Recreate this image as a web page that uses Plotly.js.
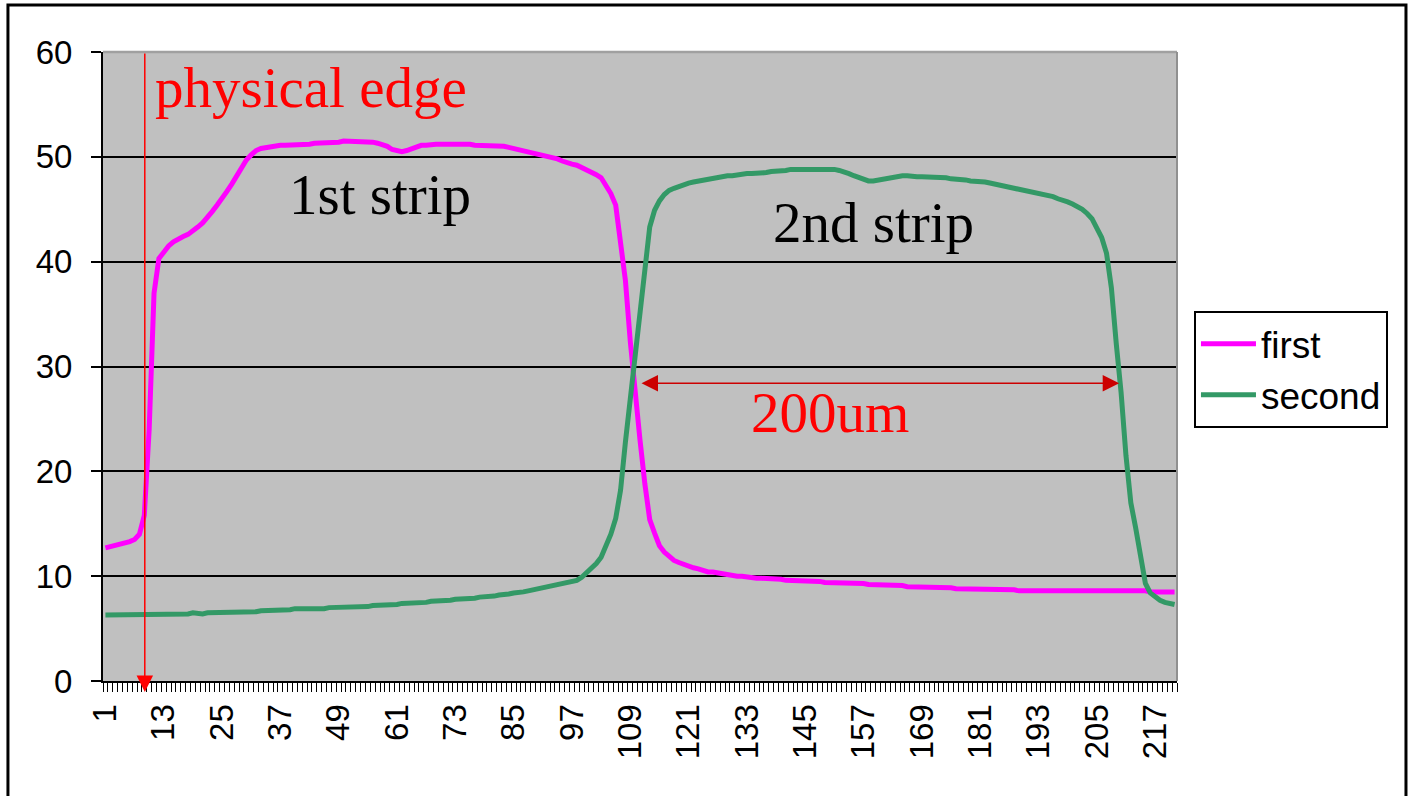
<!DOCTYPE html>
<html>
<head>
<meta charset="utf-8">
<script src="https://cdn.plot.ly/plotly-3.0.1.min.js"></script>
<style>html,body{margin:0;padding:0;background:#fff;}#chart{width:1410px;height:796px;}</style>
</head>
<body>
<div id="chart"></div>
<script>
// category index (1..221) along the x axis
var categories = [];
for (var i = 1; i <= 221; i++) categories.push(i);

var tickValues = [1,13,25,37,49,61,73,85,97,109,121,133,145,157,169,181,193,205,217];
var tickLabels = ['1','13','25','37','49','61','73','85','97','109','121','133','145','157','169','181','193','205','217'];

var seriesNames = ['first','second'];

var firstValues = [
12.7,12.8,12.9,13.0,13.1,13.3,13.5,14.0,15.8,24.0,
37.0,40.3,40.9,41.5,41.9,42.2,42.4,42.6,42.9,43.3,
43.7,44.2,44.8,45.4,46.0,46.7,47.4,48.2,49.0,49.7,
50.2,50.6,50.8,50.9,51.0,51.0,51.1,51.1,51.1,51.1,
51.2,51.2,51.2,51.3,51.3,51.3,51.4,51.4,51.4,51.5,
51.5,51.5,51.5,51.5,51.4,51.4,51.3,51.2,51.0,50.7,
50.6,50.5,50.6,50.8,51.0,51.1,51.1,51.2,51.2,51.2,
51.2,51.3,51.2,51.2,51.2,51.2,51.1,51.1,51.1,51.1,
51.0,51.0,51.0,50.9,50.8,50.7,50.6,50.5,50.4,50.3,
50.2,50.0,49.9,49.8,49.6,49.4,49.3,49.2,49.0,48.7,
48.5,48.3,48.0,47.3,46.5,45.4,42.0,38.2,32.4,27.3,
23.0,18.8,15.4,14.1,12.9,12.3,11.9,11.5,11.3,11.1,
10.9,10.8,10.7,10.5,10.4,10.4,10.3,10.2,10.2,10.1,
10.0,10.0,9.9,9.9,9.8,9.8,9.8,9.7,9.7,9.7,
9.6,9.6,9.6,9.6,9.5,9.5,9.5,9.5,9.4,9.4,
9.4,9.4,9.4,9.4,9.3,9.3,9.3,9.2,9.2,9.2,
9.2,9.1,9.1,9.1,9.1,9.0,9.0,9.0,9.0,8.9,
9.0,8.9,8.9,8.9,8.9,8.8,8.8,8.8,8.8,8.8,
8.8,8.7,8.8,8.7,8.7,8.7,8.7,8.7,8.6,8.6,
8.7,8.6,8.6,8.6,8.6,8.7,8.6,8.6,8.6,8.7,
8.6,8.6,8.7,8.6,8.6,8.6,8.7,8.6,8.7,8.6,
8.6,8.7,8.6,8.6,8.6,8.5,8.5,8.5,8.5,8.5,8.5
];

var secondValues = [
6.3,6.3,6.3,6.3,6.4,6.3,6.3,6.3,6.4,6.3,
6.3,6.3,6.4,6.4,6.3,6.4,6.4,6.4,6.5,6.4,
6.4,6.5,6.5,6.5,6.5,6.6,6.6,6.6,6.6,6.6,
6.6,6.6,6.7,6.7,6.7,6.7,6.7,6.8,6.8,6.9,
6.9,6.9,6.9,6.8,6.9,6.9,7.0,7.0,7.0,7.0,
7.0,7.1,7.1,7.1,7.1,7.2,7.2,7.2,7.3,7.3,
7.3,7.4,7.4,7.4,7.5,7.5,7.5,7.6,7.6,7.6,
7.7,7.7,7.8,7.8,7.8,7.9,7.9,8.0,8.0,8.1,
8.1,8.2,8.2,8.3,8.4,8.4,8.5,8.6,8.7,8.7,
8.8,8.9,9.0,9.1,9.2,9.3,9.5,9.6,9.9,10.3,
10.8,11.2,11.8,12.8,14.0,15.5,18.2,22.8,26.9,31.7,
35.7,40.2,43.3,44.9,45.8,46.4,46.8,47.0,47.2,47.4,
47.5,47.6,47.7,47.8,47.9,48.0,48.1,48.1,48.2,48.2,
48.3,48.3,48.4,48.4,48.4,48.5,48.5,48.6,48.6,48.7,
48.7,48.8,48.8,48.9,48.9,48.9,48.9,48.9,48.9,48.9,
48.8,48.7,48.6,48.4,48.2,48.0,47.8,47.7,47.7,47.8,
47.9,48.0,48.1,48.2,48.2,48.2,48.1,48.1,48.1,48.1,
48.1,48.0,48.0,48.0,47.9,47.9,47.8,47.8,47.7,47.7,
47.6,47.6,47.5,47.4,47.4,47.3,47.2,47.1,47.0,46.9,
46.8,46.7,46.6,46.5,46.3,46.2,46.0,45.9,45.7,45.5,
45.3,45.0,44.6,44.1,43.2,42.3,40.8,37.5,32.2,27.5,
21.5,17.0,14.6,11.8,9.3,8.4,8.0,7.7,7.5,7.4,7.3
];

var seriesColors = ['#FF00FF','#339966'];

var traces = [
  {x: categories, y: firstValues, name: seriesNames[0], type: 'scatter', mode: 'lines',
   line: {color: seriesColors[0], width: 5}},
  {x: categories, y: secondValues, name: seriesNames[1], type: 'scatter', mode: 'lines',
   line: {color: seriesColors[1], width: 5}}
];

var serif = 'Liberation Serif, Times New Roman, serif';

var layout = {
  width: 1410, height: 796,
  margin: {l: 103, r: 233, t: 52, b: 115},
  paper_bgcolor: '#FFFFFF',
  plot_bgcolor: '#C0C0C0',
  font: {family: 'Liberation Sans, Arial, sans-serif', color: '#000000'},
  showlegend: true,
  xaxis: {
    range: [0.5, 221.5],
    tickmode: 'array', tickvals: tickValues, ticktext: tickLabels,
    tickangle: -90, ticks: '', showgrid: false, zeroline: false,
    showline: true, linecolor: '#000000', linewidth: 2,
    ticklabelstandoff: 8,
    tickfont: {size: 33, color: '#000000'},
    minor: {ticks: 'outside', tick0: 0.5, dtick: 1, ticklen: 9, tickwidth: 1, tickcolor: '#000000', showgrid: false}
  },
  yaxis: {
    range: [0, 60], tick0: 0, dtick: 10,
    ticks: 'outside', ticklen: 10, tickwidth: 2, tickcolor: '#000000',
    showgrid: true, gridcolor: '#000000', gridwidth: 2,
    zeroline: false, showline: true, linecolor: '#000000', linewidth: 2,
    ticklabelstandoff: 12,
    tickfont: {size: 33, color: '#000000'}
  },
  legend: {
    x: 1.0158, xanchor: 'left', y: 0.588, yanchor: 'top',
    bordercolor: '#000000', borderwidth: 2, bgcolor: '#FFFFFF',
    itemwidth: 55,
    font: {size: 37, color: '#000000'}
  },
  shapes: [
    {type: 'rect', xref: 'paper', yref: 'paper', x0: -0.0885, x1: 1.2132, y0: -0.3, y1: 1.0747,
     line: {color: '#000000', width: 3}, fillcolor: 'rgba(0,0,0,0)', layer: 'above'},
    {type: 'line', xref: 'paper', yref: 'paper', x0: 0, x1: 1, y0: 1, y1: 1,
     line: {color: '#A0A0A0', width: 2.5}, layer: 'above'},
    {type: 'line', xref: 'paper', yref: 'paper', x0: 1, x1: 1, y0: 0, y1: 1,
     line: {color: '#909090', width: 2}, layer: 'above'}
  ],
  annotations: [
    {xref: 'x', yref: 'paper', x: 9.1, y: -0.0175, ax: 0, ay: -640, axref: 'pixel', ayref: 'pixel',
     text: '', showarrow: true, arrowhead: 2, arrowsize: 2.2, arrowwidth: 1.5, arrowcolor: '#FF0000'},
    {xref: 'x', yref: 'y', x: 209.6, y: 28.4, ax: 111, ay: 28.4, axref: 'x', ayref: 'y',
     text: '', showarrow: true, arrowside: 'end+start', arrowhead: 2, arrowsize: 2.2, arrowwidth: 1.5, arrowcolor: '#CC0000'},
    {xref: 'x', yref: 'y', x: 10.8, y: 56.6, xanchor: 'left', yanchor: 'middle', showarrow: false,
     text: 'physical edge', font: {family: serif, size: 57, color: '#FF0000'}},
    {xref: 'x', yref: 'y', x: 57.5, y: 46.4, xanchor: 'center', yanchor: 'middle', showarrow: false,
     text: '1st strip', font: {family: serif, size: 57, color: '#000000'}},
    {xref: 'x', yref: 'y', x: 159.1, y: 43.7, xanchor: 'center', yanchor: 'middle', showarrow: false,
     text: '2nd strip', font: {family: serif, size: 57, color: '#000000'}},
    {xref: 'x', yref: 'y', x: 150.1, y: 25.6, xanchor: 'center', yanchor: 'middle', showarrow: false,
     text: '200um', font: {family: serif, size: 57, color: '#FF0000'}}
  ]
};

Plotly.newPlot('chart', traces, layout, {displayModeBar: false, staticPlot: true});
</script>
</body>
</html>
